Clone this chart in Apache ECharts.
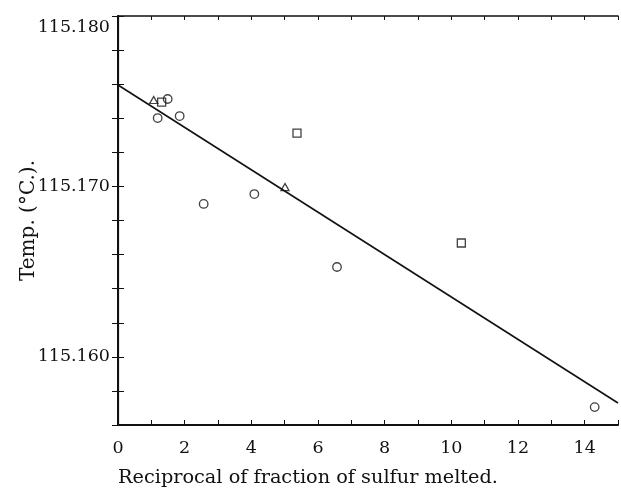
<!DOCTYPE html>
<html>
<head>
<meta charset="utf-8">
<script src="https://cdn.jsdelivr.net/npm/echarts@6/dist/echarts.min.js"></script>
<style>
html,body{margin:0;padding:0;background:#fff;}
#chart{width:621px;height:490px;}
</style>
</head>
<body>
<div id="chart"></div>
<script>
// Data
const circleX = [1.49, 1.19, 1.85, 2.57, 4.09, 6.57, 14.3];
const circleY = [115.17513, 115.17401, 115.17413, 115.16897, 115.16955, 115.16527, 115.15705];
const squareX = [1.31, 5.37, 10.30];
const squareY = [115.17495, 115.17313, 115.16668];
const triangleX = [1.07, 5.01];
const triangleY = [115.17507, 115.16996];
const fitX = [0, 15];
const fitY = [115.17595, 115.15729];
const yTickLabels = ['115.180', '115.170', '115.160'];
const xTitle = 'Reciprocal of fraction of sulfur melted.';
const yTitle = 'Temp. (°C.).';

const zip = (xs, ys) => xs.map((x, i) => [x, ys[i]]);
const FONT = 'DejaVu Serif';
const ink = '#111';

const chart = echarts.init(document.getElementById('chart'), null, {renderer: 'canvas'});

const markerStyle = {color: 'rgba(0,0,0,0)', borderColor: ink, borderWidth: 1.3};

chart.setOption({
  animation: false,
  backgroundColor: '#fff',
  grid: {left: 118, right: 1, top: 16, bottom: 65},
  xAxis: [{
    type: 'value', min: 0, max: 15, interval: 1,
    name: xTitle, nameLocation: 'start', nameGap: 0, nameMoveOverlap: false,
    nameTextStyle: {fontFamily: FONT, fontSize: 19.3, color: ink, align: 'left', verticalAlign: 'top', padding: [43, 0, 0, 0]},
    axisLine: {lineStyle: {color: ink, width: 2}},
    axisTick: {inside: true, length: 5, lineStyle: {color: ink, width: 1}},
    axisLabel: {
      fontFamily: FONT, fontSize: 17.5, color: ink, margin: 14,
      formatter: v => (Math.round(v) % 2 === 0 && v < 15 ? String(Math.round(v)) : '')
    },
    splitLine: {show: false}
  }, {
    type: 'value', min: 0, max: 15, interval: 1, position: 'top',
    axisLine: {show: true, lineStyle: {color: ink, width: 1.5}},
    axisTick: {inside: true, length: 4, lineStyle: {color: ink, width: 1}},
    axisLabel: {show: false}, splitLine: {show: false}
  }],
  yAxis: [{
    type: 'value', min: 115.156, max: 115.180, interval: 0.002, position: 'left',
    name: yTitle, nameLocation: 'middle', nameGap: 79, nameRotate: 90, nameMoveOverlap: false,
    nameTextStyle: {fontFamily: FONT, fontSize: 20, color: ink},
    axisLine: {show: true, lineStyle: {color: ink, width: 2}},
    axisTick: {inside: true, length: 6, lineStyle: {color: ink, width: 1}},
    axisLabel: {
      fontFamily: FONT, fontSize: 17.5, color: ink, margin: 8,
      formatter: v => {
        const s = v.toFixed(3);
        if (!yTickLabels.includes(s)) return '';
        return s === yTickLabels[0] ? '{top|' + s + '}' : s;
      },
      rich: {top: {fontFamily: FONT, fontSize: 17.5, color: ink, padding: [22, 0, 0, 0]}}
    },
    splitLine: {show: false}
  }, {
    type: 'value', min: 115.156, max: 115.180, interval: 0.002, position: 'right',
    axisLine: {show: true, lineStyle: {color: ink, width: 1.2}},
    axisTick: {inside: true, length: 6, lineStyle: {color: ink, width: 1}},
    axisLabel: {show: false}, splitLine: {show: false}
  }],
  series: [{
    type: 'line', data: zip(fitX, fitY), showSymbol: false, symbol: 'none',
    lineStyle: {color: ink, width: 1.6}, silent: true
  }, {
    type: 'scatter', data: zip(circleX, circleY), symbol: 'circle', symbolSize: 8.5,
    itemStyle: markerStyle
  }, {
    type: 'scatter', data: zip(squareX, squareY), symbol: 'rect', symbolSize: 8,
    itemStyle: markerStyle
  }, {
    type: 'scatter', data: zip(triangleX, triangleY), symbol: 'triangle', symbolSize: [8, 7],
    itemStyle: markerStyle
  }]
});
</script>
</body>
</html>
